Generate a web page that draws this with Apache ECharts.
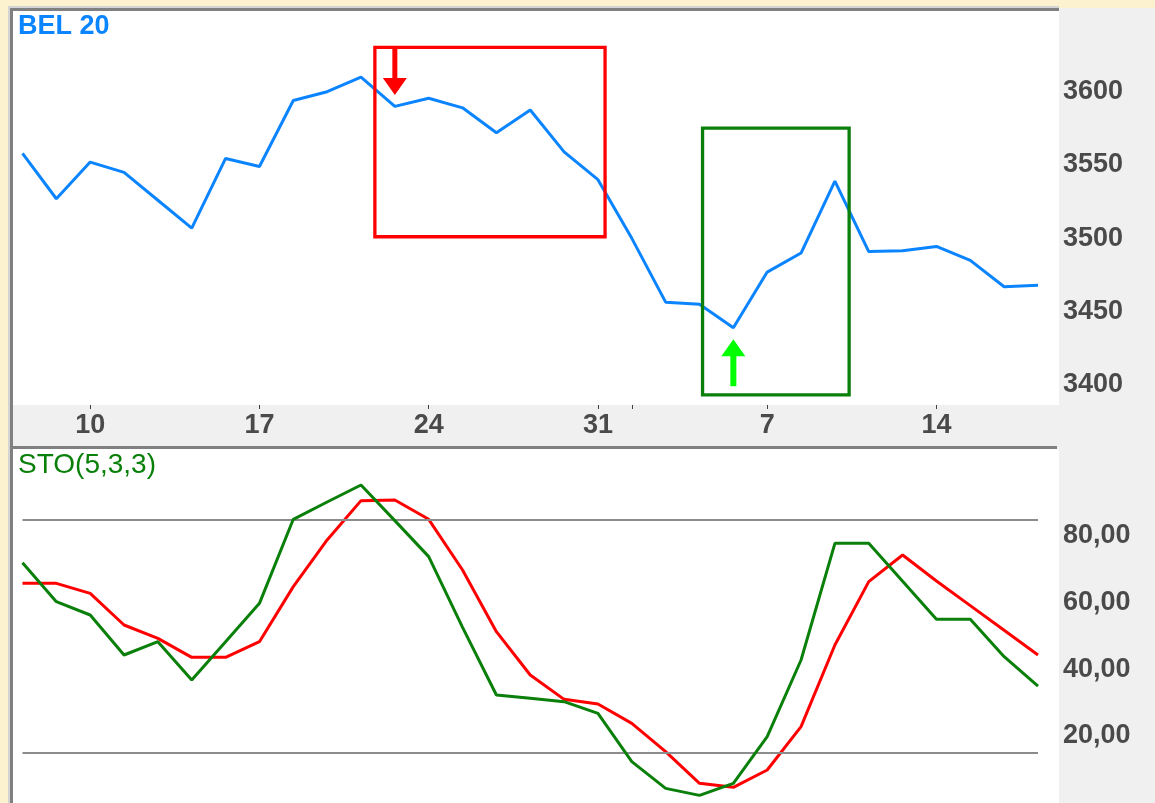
<!DOCTYPE html>
<html><head><meta charset="utf-8">
<script src="https://cdn.jsdelivr.net/npm/echarts@6/dist/echarts.min.js"></script>
<style>html,body{margin:0;padding:0;background:#fcf2d0;overflow:hidden;} #c{width:1155px;height:803px;}</style>
</head><body><div id="c"></div>
<script>
// Trading days, Oct 6 – Nov 17 2005
const dates = ['2005-10-06','2005-10-07','2005-10-10','2005-10-11','2005-10-12','2005-10-13','2005-10-14',
  '2005-10-17','2005-10-18','2005-10-19','2005-10-20','2005-10-21','2005-10-24','2005-10-25','2005-10-26',
  '2005-10-27','2005-10-28','2005-10-31','2005-11-01','2005-11-02','2005-11-03','2005-11-04','2005-11-07',
  '2005-11-08','2005-11-09','2005-11-10','2005-11-11','2005-11-14','2005-11-15','2005-11-16','2005-11-17'];
const bel20 = [3558,3527,3552,3545,3526,3507,3554.5,3549,3594,3600,3610,3590,3595.5,3589,3572,3587.5,3559,3540,
  3500,3456.5,3455,3439,3477,3490,3539,3491,3491.5,3494.5,3485,3467,3468];
const stoK = [72,60.3,56.3,44.3,48.3,36.8,48.3,59.8,85,90.2,95.3,84.6,73.8,52.6,32.3,31.3,30.3,26.8,12.3,4.3,
  2.2,5.8,19.8,42.8,77.8,77.8,66.4,55,55,43.8,35];
const stoD = [65.8,65.8,62.8,53.3,49.3,43.6,43.6,48.3,64.8,78.8,90.6,90.8,85,69.8,51.3,38.3,31,29.6,23.8,15.3,
  5.8,4.6,9.8,22.8,47.3,66.3,74.3,66.5,59.1,51.7,44.3];
const labelIdx = [2,7,12,17,22,27];          // Mondays: 10,17,24,31,7,14
const tickIdx = [2,7,12,17,18,22,27];        // + month boundary (Nov 1)
const stoLevels = [85, 15];
// annotations in data units [xIndexFrom, valueTop, xIndexTo, valueBottom]
const redBox = [10.41, 3630.2, 17.21, 3501.1];
const greenBox = [20.09, 3575.1, 24.42, 3393.2];
const redArrow = {index: 11, tip: 3597.7};
const greenArrow = {index: 21, tip: 3431.2};

const chart = echarts.init(document.getElementById('c'));
const labelFont = {color:'#4a4a4a', fontSize:27, fontWeight:'bold', fontFamily:'Liberation Sans'};
const option = {
  animation:false,
  grid:[{left:22.5, right:117, top:91.7, height:293.3},
        {left:22.5, right:117, top:469.3, height:333.4}],
  xAxis:[
    {type:'category', gridIndex:0, data:dates, boundaryGap:false, offset:20,
     axisLine:{show:false},
     axisTick:{show:true, interval:(i)=>tickIdx.includes(i), length:4, lineStyle:{color:'#404040', width:1}},
     axisLabel:Object.assign({interval:(i)=>labelIdx.includes(i), formatter:(v)=>String(+v.slice(8)), margin:7}, labelFont),
     splitLine:{show:false}},
    {type:'category', gridIndex:1, data:dates, boundaryGap:false, show:false}
  ],
  yAxis:[
    {type:'value', gridIndex:0, position:'right', min:3400, max:3600, interval:50,
     axisLine:{show:false}, axisTick:{show:false}, splitLine:{show:false},
     axisLabel:Object.assign({margin:25, formatter:(v)=>String(v)}, labelFont)},
    {type:'value', gridIndex:1, position:'right', min:0, max:100, interval:20,
     axisLine:{show:false}, axisTick:{show:false}, splitLine:{show:false},
     axisLabel:Object.assign({margin:25, formatter:(v)=>(v===0||v===100)?'':v.toFixed(2).replace('.',',')}, labelFont)}
  ],
  series:[
    {type:'line', name:'BEL 20', xAxisIndex:0, yAxisIndex:0, data:bel20, clip:false, symbol:'none',
     lineStyle:{color:'#0a84ff', width:3}, z:5},
    {type:'line', name:'levels', xAxisIndex:1, yAxisIndex:1, data:[], z:1,
     markLine:{silent:true, symbol:'none', label:{show:false}, lineStyle:{color:'#8c8c8c', width:2, type:'solid'},
       data:stoLevels.map(v=>({yAxis:v}))}},
    {type:'line', name:'%D', xAxisIndex:1, yAxisIndex:1, data:stoD, symbol:'none',
     lineStyle:{color:'#ff0000', width:3}, z:4},
    {type:'line', name:'%K', xAxisIndex:1, yAxisIndex:1, data:stoK, symbol:'none',
     lineStyle:{color:'#0a800a', width:3}, z:5}
  ]
};
chart.setOption(option);

const x0 = chart.convertToPixel({xAxisIndex:0}, 0);
const x1 = chart.convertToPixel({xAxisIndex:0}, 1);
const xAt = (f)=> x0 + f*(x1-x0);
const yAt = (v)=> chart.convertToPixel({yAxisIndex:0}, v);
function boxRect(b, color){
  const xa = xAt(b[0]), xb = xAt(b[2]), ya = yAt(b[1]), yb = yAt(b[3]);
  return {type:'rect', z:50, silent:true, shape:{x:xa, y:ya, width:xb-xa, height:yb-ya},
          style:{fill:null, stroke:color, lineWidth:3.3}};
}
function arrowDown(a, color){
  const x = xAt(a.index), t = yAt(a.tip);
  return {type:'polygon', z:50, silent:true,
    shape:{points:[[x-2.5,t-47],[x+2.5,t-47],[x+2.5,t-17],[x+12,t-17],[x,t],[x-12,t-17],[x-2.5,t-17]]},
    style:{fill:color}};
}
function arrowUp(a, color){
  const x = xAt(a.index), t = yAt(a.tip);
  return {type:'polygon', z:50, silent:true,
    shape:{points:[[x-3,t+47],[x+3,t+47],[x+3,t+17],[x+12,t+17],[x,t],[x-12,t+17],[x-3,t+17]]},
    style:{fill:color}};
}
chart.setOption({graphic:[
  {type:'rect', z:-10, silent:true, shape:{x:10, y:8, width:1145, height:795}, style:{fill:'#f0f0f0'}},
  {type:'rect', z:-9, silent:true, shape:{x:13, y:11, width:1046, height:394}, style:{fill:'#ffffff'}},
  {type:'rect', z:-9, silent:true, shape:{x:13, y:449, width:1046, height:354}, style:{fill:'#ffffff'}},
  {type:'rect', z:-8, silent:true, shape:{x:8, y:6, width:1051, height:2}, style:{fill:'#d4d4d4'}},
  {type:'rect', z:-8, silent:true, shape:{x:8, y:6, width:2, height:797}, style:{fill:'#d4d4d4'}},
  {type:'rect', z:-8, silent:true, shape:{x:10, y:8, width:1049, height:3}, style:{fill:'#808080'}},
  {type:'rect', z:-8, silent:true, shape:{x:10, y:8, width:3, height:795}, style:{fill:'#808080'}},
  {type:'rect', z:-8, silent:true, shape:{x:10, y:446, width:1047, height:3}, style:{fill:'#808080'}},
  {type:'text', z:20, silent:true, x:18, y:13, style:{text:'BEL 20', fill:'#0a84ff', fontSize:27, fontWeight:'bold', fontFamily:'Liberation Sans'}},
  {type:'text', z:20, silent:true, x:18, y:451, style:{text:'STO(5,3,3)', fill:'#0a800a', fontSize:28, fontFamily:'Liberation Sans'}},
  boxRect(redBox, '#ff0000'),
  boxRect(greenBox, '#0a800a'),
  arrowDown(redArrow, '#ff0000'),
  arrowUp(greenArrow, '#00ff00')
]});
</script>
</body></html>
